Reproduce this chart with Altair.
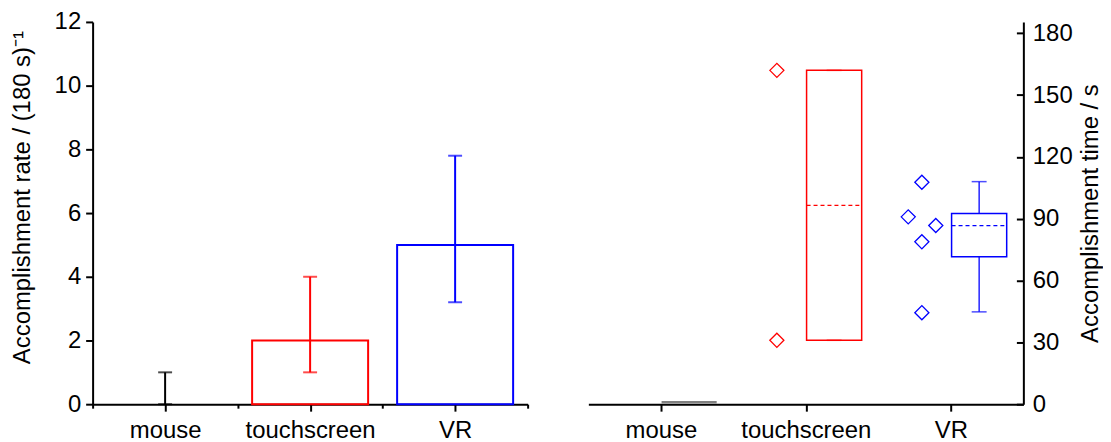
import json
import altair as alt
import pandas as pd

# ---------------- data ----------------
categories = ["mouse", "touchscreen", "VR"]

# Left panel: accomplishment rate per 180 s (bar = mean, error bar = low..high)
rate_mean = [0, 2, 5]
rate_low = [0, 1, 3.2]
rate_high = [1, 4, 7.8]

# Right panel: individual accomplishment times (s)
time_group = ["touchscreen", "touchscreen", "VR", "VR", "VR", "VR", "VR"]
time_value = [162, 31, 107.7, 90.9, 86.7, 78.8, 44.4]

# Right panel: box statistics (s)
box_q1 = [0, 31, 71.5]
box_q3 = [0, 162, 92.5]
box_median = [0, 96.5, 86.7]
whisker_low = [0, 31, 44.8]
whisker_high = [0, 162, 108]

rate_ticks = list(range(0, 13))
time_ticks = list(range(0, 181, 15))

# ---------------- layout / style ----------------
rate_colors = ["#000000", "#ff0000", "#0000ff"]
time_colors = ["#808080", "#ff0000", "#0000ff"]
W, H = 437, 384
FONT = "Liberation Sans"
BAR_HALF = 0.4
POINT_SHIFT = -0.2
POINT_JITTER = [0, 0, 0, -0.094, 0.096, 0, 0]
BOX_L, BOX_R = 0.005, 0.385
WHISKER_X = 0.195

cat_index = {c: i for i, c in enumerate(categories)}

rate_df = pd.DataFrame({
    "group": categories,
    "idx": list(range(len(categories))),
    "mean": rate_mean,
    "low": rate_low,
    "high": rate_high,
})

box_df = pd.DataFrame({
    "group": categories,
    "idx": list(range(len(categories))),
    "q1": box_q1,
    "q3": box_q3,
    "median": box_median,
    "lo": whisker_low,
    "hi": whisker_high,
})

pts_df = pd.DataFrame({
    "group": time_group,
    "idx": [cat_index[g] for g in time_group],
    "value": time_value,
    "jit": POINT_JITTER,
})

names_js = json.dumps(categories)
x_scale = alt.Scale(domain=[-0.5, len(categories) - 0.5], nice=False, zero=False)

# ---------------- left panel ----------------
left_x_axis = alt.Axis(
    values=[-0.5, 0, 0.5, 1, 1.5, 2, 2.5],
    labelExpr=f"datum.value % 1 === 0 ? {names_js}[datum.value] : ''",
    tickSize={"expr": "datum.value % 1 === 0 ? 7 : 4"},
    labelPadding=7,
    title=None,
)
left_y_axis = alt.Axis(
    values=rate_ticks,
    labelExpr="datum.value % 2 === 0 ? datum.label : ''",
    tickSize={"expr": "datum.value % 2 === 0 ? 7 : 4"},
    labelPadding=5,
    title="Accomplishment rate / (180 s)⁻¹",
    titlePadding=20,
    titleY=176,
)
rate_color = alt.Color("group:N", scale=alt.Scale(domain=categories, range=rate_colors), legend=None)

left_base = alt.Chart(rate_df)
bars = left_base.transform_calculate(
    xl=f"datum.idx - {BAR_HALF}", xr=f"datum.idx + {BAR_HALF}",
    shown="datum.mean > 0 ? 1 : 0",
).mark_rect(filled=False, strokeWidth=2).encode(
    x=alt.X("xl:Q", scale=x_scale, axis=left_x_axis),
    x2="xr:Q",
    y=alt.Y("mean:Q", scale=alt.Scale(domain=[0, 12], nice=False, zero=True), axis=left_y_axis),
    y2=alt.datum(0),
    color=rate_color,
    strokeOpacity=alt.StrokeOpacity("shown:Q", scale=None),
)
err = left_base.mark_rule(strokeWidth=2).encode(
    x="idx:Q", y="low:Q", y2="high:Q", color=rate_color
)
caps = left_base.transform_fold(["low", "high"], as_=["end", "val"]).mark_tick(
    orient="horizontal", size=14, thickness=2
).encode(x="idx:Q", y="val:Q", color=rate_color)

left = alt.layer(bars, err, caps).properties(width=W, height=H)

# ---------------- right panel ----------------
right_x_axis = alt.Axis(
    values=list(range(len(categories))),
    labelExpr=f"{names_js}[datum.value]",
    tickSize=7,
    labelPadding=7,
    title=None,
)
right_y_axis = alt.Axis(
    orient="right",
    values=time_ticks,
    labelExpr="datum.value % 30 === 0 ? datum.label : ''",
    tickSize={"expr": "datum.value % 30 === 0 ? -7 : -4"},
    labelPadding=16,
    title="Accomplishment time / s",
    titleAngle=270,
    titleBaseline="top",
    titlePadding=6,
)
time_color = alt.Color("group:N", scale=alt.Scale(domain=categories, range=time_colors), legend=None)

rb = alt.Chart(box_df).transform_calculate(
    bl=f"datum.idx + {BOX_L}", br=f"datum.idx + {BOX_R}", wx=f"datum.idx + {WHISKER_X}"
)
boxes = rb.transform_filter("datum.q3 > datum.q1").mark_rect(filled=False, strokeWidth=1.5).encode(
    x=alt.X("bl:Q", scale=x_scale, axis=right_x_axis),
    x2="br:Q",
    y=alt.Y("q1:Q", scale=alt.Scale(domain=[0, 185.5], nice=False, zero=True), axis=right_y_axis),
    y2="q3:Q",
    color=time_color,
)
flat_boxes = rb.transform_filter("datum.q3 <= datum.q1").mark_rule(
    strokeWidth=2.5, yOffset=-2
).encode(x="bl:Q", x2="br:Q", y="q1:Q", color=time_color)
medians = rb.transform_filter("datum.q3 > datum.q1").mark_rule(
    strokeWidth=1.3, strokeDash=[4, 3]
).encode(x="bl:Q", x2="br:Q", y="median:Q", color=time_color)
whisk_up = rb.transform_filter("datum.q3 > datum.q1").mark_rule(strokeWidth=1.3).encode(
    x="wx:Q", y="q3:Q", y2="hi:Q", color=time_color
)
whisk_dn = rb.transform_filter("datum.q3 > datum.q1").mark_rule(strokeWidth=1.3).encode(
    x="wx:Q", y="lo:Q", y2="q1:Q", color=time_color
)
wcaps = rb.transform_filter("datum.q3 > datum.q1").transform_fold(
    ["lo", "hi"], as_=["end", "val"]
).mark_tick(orient="horizontal", size=15, thickness=1.5).encode(
    x="wx:Q", y="val:Q", color=time_color
)
points = alt.Chart(pts_df).transform_calculate(
    px=f"datum.idx + {POINT_SHIFT} + datum.jit"
).mark_point(shape="diamond", size=200, filled=False, strokeWidth=1.3, opacity=1).encode(
    x="px:Q", y="value:Q", color=time_color
)

right = alt.layer(boxes, flat_boxes, medians, whisk_up, whisk_dn, wcaps, points).properties(width=W, height=H)

chart = alt.hconcat(left, right, spacing=60).resolve_scale(color="independent").properties(
    padding={"left": 2, "top": 1, "right": 0, "bottom": 0}
).configure_view(stroke=None).configure_axis(
    labelFont=FONT, titleFont=FONT, labelFontSize=24, titleFontSize=24,
    titleFontWeight="normal", labelColor="black", titleColor="black",
    domainColor="black", tickColor="black", domainWidth=2, tickWidth=2,
    grid=False, labelFlush=False, labelOverlap=False,
)

chart.save("out.html", embed_options={"renderer": "svg", "actions": False})
